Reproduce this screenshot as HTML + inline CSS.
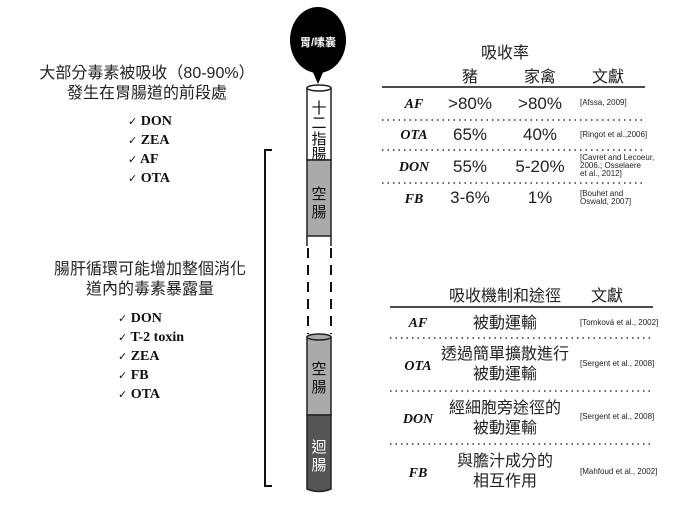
<!DOCTYPE html>
<html><head><meta charset="utf-8"><style>
body{margin:0;background:#fff;width:674px;height:506px;overflow:hidden}
svg text{font-family:"Liberation Sans","Noto Sans CJK TC",sans-serif}
.s{font-family:"Liberation Serif",serif!important;font-weight:bold}
.i{font-family:"Liberation Serif",serif!important;font-weight:bold;font-style:italic}
.c{font-weight:normal;font-family:"DejaVu Sans",sans-serif;font-size:11px}
</style></head><body>
<svg width="674" height="506" xmlns="http://www.w3.org/2000/svg">
<g font-size="16" fill="#222" text-anchor="middle">
<text x="147" y="78">大部分毒素被吸收（80-90%）</text>
<text x="147" y="98">發生在胃腸道的前段處</text>
<text x="150" y="274">腸肝循環可能增加整個消化</text>
<text x="150" y="294">道內的毒素暴露量</text>
</g>
<g font-size="14" fill="#111">
<text x="128" y="125" class="s"><tspan class="c">✓</tspan> DON</text>
<text x="128" y="144" class="s"><tspan class="c">✓</tspan> ZEA</text>
<text x="128" y="163" class="s"><tspan class="c">✓</tspan> AF</text>
<text x="128" y="182" class="s"><tspan class="c">✓</tspan> OTA</text>
<text x="118" y="322" class="s"><tspan class="c">✓</tspan> DON</text>
<text x="118" y="341" class="s"><tspan class="c">✓</tspan> T-2 toxin</text>
<text x="118" y="360" class="s"><tspan class="c">✓</tspan> ZEA</text>
<text x="118" y="379" class="s"><tspan class="c">✓</tspan> FB</text>
<text x="118" y="398" class="s"><tspan class="c">✓</tspan> OTA</text>
</g>
<path d="M272 150 H265 V486 H272" fill="none" stroke="#111" stroke-width="2"/>
<ellipse cx="318" cy="40" rx="28" ry="33" fill="#000"/>
<path d="M312 70 L318 84 L324 70Z" fill="#000"/>
<text x="318" y="46" font-size="11" fill="#fff" text-anchor="middle" font-weight="bold">胃/嗉囊</text>
<rect x="307" y="88" width="24" height="72" fill="#fff" stroke="#222" stroke-width="1.5"/>
<rect x="307" y="160" width="24" height="76" fill="#aaa" stroke="#222" stroke-width="1.5"/>
<line x1="307" y1="236" x2="307" y2="246" stroke="#222" stroke-width="1.5"/>
<line x1="331" y1="236" x2="331" y2="246" stroke="#222" stroke-width="1.5"/>
<ellipse cx="319" cy="88" rx="12" ry="3" fill="#fff" stroke="#222" stroke-width="1.5"/>
<g font-size="15" fill="#111" text-anchor="middle">
<text x="319" y="113">十</text><text x="319" y="128">二</text><text x="319" y="144">指</text><text x="319" y="159">腸</text>
<text x="319" y="199">空</text><text x="319" y="217">腸</text>
</g>
<line x1="308" y1="248" x2="308" y2="334" stroke="#111" stroke-width="2" stroke-dasharray="10,7"/>
<line x1="331" y1="248" x2="331" y2="334" stroke="#111" stroke-width="2" stroke-dasharray="10,7"/>
<rect x="307" y="337" width="24" height="78" fill="#aaa" stroke="#222" stroke-width="1.5"/>
<path d="M307 415 H331 V489 Q319 494 307 489Z" fill="#555" stroke="#222" stroke-width="1.5"/>
<ellipse cx="319" cy="337" rx="12" ry="3" fill="#aaa" stroke="#222" stroke-width="1.5"/>
<g font-size="15" text-anchor="middle">
<text x="319" y="374" fill="#111">空</text><text x="319" y="392" fill="#111">腸</text>
<text x="319" y="452" fill="#fff">迴</text><text x="319" y="470" fill="#fff">腸</text>
</g>
<g font-size="16" fill="#222" text-anchor="middle">
<text x="505" y="58">吸收率</text>
<text x="470" y="82">豬</text><text x="540" y="82">家禽</text><text x="608" y="82">文獻</text>
</g>
<line x1="382" y1="87" x2="645" y2="87" stroke="#111" stroke-width="1.5"/>
<g stroke="#333" stroke-width="1.5" stroke-dasharray="1.5,4">
<line x1="382" y1="120" x2="645" y2="120"/><line x1="382" y1="150" x2="645" y2="150"/><line x1="382" y1="183" x2="645" y2="183"/>
</g>
<g font-size="14" fill="#111" text-anchor="middle">
<text x="414" y="108" class="i">AF</text><text x="414" y="139" class="i">OTA</text><text x="414" y="171" class="i">DON</text><text x="414" y="203" class="i">FB</text>
</g>
<g font-size="17" fill="#222" text-anchor="middle">
<text x="470" y="109">&gt;80%</text><text x="540" y="109">&gt;80%</text>
<text x="470" y="140">65%</text><text x="540" y="140">40%</text>
<text x="470" y="172">55%</text><text x="540" y="172">5-20%</text>
<text x="470" y="203">3-6%</text><text x="540" y="203">1%</text>
</g>
<g font-size="8" fill="#222">
<text x="580" y="105">[Afssa, 2009]</text>
<text x="580" y="137">[Ringot et al.,2006]</text>
<text x="580" y="160">[Cavret and Lecoeur,</text><text x="580" y="168">2006.; Osselaere</text><text x="580" y="176">et al., 2012]</text>
<text x="580" y="196">[Bouhet and</text><text x="580" y="204">Oswald, 2007]</text>
</g>
<g font-size="16" fill="#222" text-anchor="middle">
<text x="505" y="301">吸收機制和途徑</text><text x="607" y="301">文獻</text>
<text x="505" y="328">被動運輸</text>
<text x="505" y="359">透過簡單擴散進行</text><text x="505" y="379">被動運輸</text>
<text x="505" y="413">經細胞旁途徑的</text><text x="505" y="433">被動運輸</text>
<text x="505" y="466">與膽汁成分的</text><text x="505" y="486">相互作用</text>
</g>
<line x1="390" y1="307" x2="653" y2="307" stroke="#111" stroke-width="1.5"/>
<g stroke="#333" stroke-width="1.5" stroke-dasharray="1.5,4">
<line x1="390" y1="338" x2="653" y2="338"/><line x1="390" y1="391" x2="653" y2="391"/><line x1="390" y1="444" x2="653" y2="444"/>
</g>
<g font-size="14" fill="#111" text-anchor="middle">
<text x="418" y="327" class="i">AF</text><text x="418" y="370" class="i">OTA</text><text x="418" y="423" class="i">DON</text><text x="418" y="477" class="i">FB</text>
</g>
<g font-size="8" fill="#222">
<text x="580" y="325">[Tomková et al., 2002]</text>
<text x="580" y="366">[Sergent et al., 2008]</text>
<text x="580" y="419">[Sergent et al., 2008]</text>
<text x="580" y="474">[Mahfoud et al., 2002]</text>
</g>
</svg>
</body></html>
